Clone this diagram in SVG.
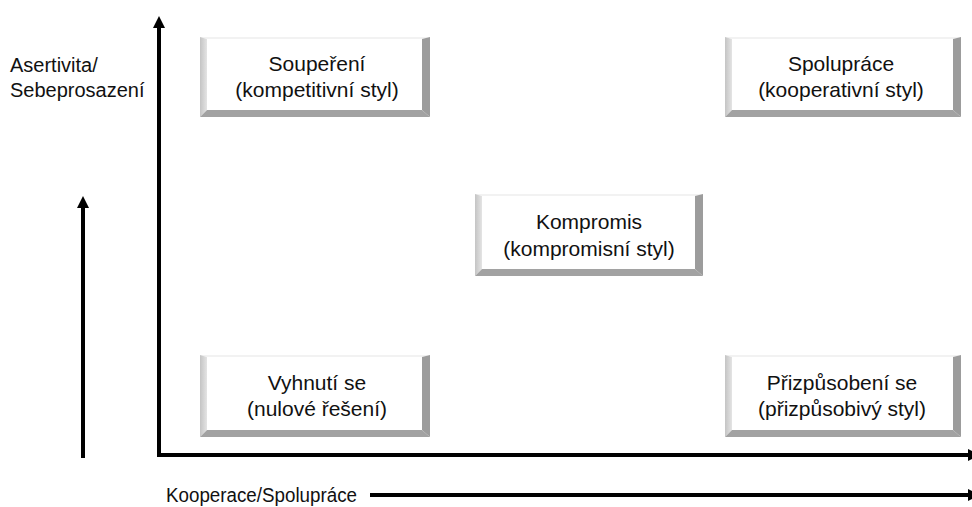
<svg xmlns="http://www.w3.org/2000/svg" width="972" height="507" viewBox="0 0 972 507">
<style>
.t{font-family:"Liberation Sans",Arial,sans-serif;font-size:20px;fill:#111;}
.b{font-size:21px;}
.c{text-anchor:middle;}
.tp{fill:#f2f2f2;}
.lf{fill:url(#lg);}
.rt{fill:#9c9c9c;}
.bt{fill:#a2a2a2;}
.fc{fill:#ffffff;}
.ax{stroke:#000;stroke-width:4;fill:none;}
</style>
<defs>
<linearGradient id="lg" x1="0" y1="0" x2="1" y2="0">
<stop offset="0" stop-color="#c4c4c4"/>
<stop offset="1" stop-color="#e4e4e4"/>
</linearGradient>
</defs>
<rect width="972" height="507" fill="#fff"/>

<g id="connectors">
<line class="ax" x1="159" y1="455" x2="159" y2="26"/>
<polygon points="159,16 153,28 165,28" fill="#000"/>
<line class="ax" x1="157" y1="455" x2="968" y2="455"/>
<polygon points="980,455 968,449 968,461" fill="#000"/>
<line class="ax" x1="83" y1="458" x2="83" y2="206"/>
<polygon points="83,196 77,208 89,208" fill="#000"/>
<line class="ax" x1="370" y1="495" x2="968" y2="495" stroke-width="3.5"/>
<polygon points="980,495 968,489 968,501" fill="#000"/>
</g>

<g id="label-y">
<text class="t" x="10" y="72">Asertivita/</text>
<text class="t" x="10" y="97">Sebeprosazení</text>
</g>
<g id="label-x">
<text class="t" x="166" y="502" font-size="18" textLength="191" lengthAdjust="spacingAndGlyphs">Kooperace/Spolupráce</text>
</g>

<g id="souperani">
<polygon class="tp" points="200,37 430,37 422,39 207,39"/>
<polygon class="lf" points="200,37 207,39 207,110 200,117"/>
<polygon class="rt" points="430,37 430,117 422,110 422,39"/>
<polygon class="bt" points="200,117 207,110 422,110 430,117"/>
<rect class="fc" x="207" y="39" width="215" height="71"/>
<text class="t b c" x="317" y="71">Soupeření</text>
<text class="t b c" x="317" y="97">(kompetitivní styl)</text>
</g>

<g id="spoluprace">
<polygon class="tp" points="725,37 961,37 953,39 732,39"/>
<polygon class="lf" points="725,37 732,39 732,110 725,117"/>
<polygon class="rt" points="961,37 961,117 953,110 953,39"/>
<polygon class="bt" points="725,117 732,110 953,110 961,117"/>
<rect class="fc" x="732" y="39" width="221" height="71"/>
<text class="t b c" x="841" y="71">Spolupráce</text>
<text class="t b c" x="841" y="97">(kooperativní styl)</text>
</g>

<g id="kompromis">
<polygon class="tp" points="475,194 703,194 695,196 482,196"/>
<polygon class="lf" points="475,194 482,196 482,269 475,276"/>
<polygon class="rt" points="703,194 703,276 695,269 695,196"/>
<polygon class="bt" points="475,276 482,269 695,269 703,276"/>
<rect class="fc" x="482" y="196" width="213" height="73"/>
<text class="t b c" x="589" y="229">Kompromis</text>
<text class="t b c" x="589" y="256">(kompromisní styl)</text>
</g>

<g id="vyhnuti">
<polygon class="tp" points="200,355 430,355 422,357 207,357"/>
<polygon class="lf" points="200,355 207,357 207,430 200,437"/>
<polygon class="rt" points="430,355 430,437 422,430 422,357"/>
<polygon class="bt" points="200,437 207,430 422,430 430,437"/>
<rect class="fc" x="207" y="357" width="215" height="73"/>
<text class="t b c" x="317" y="390">Vyhnutí se</text>
<text class="t b c" x="317" y="416">(nulové řešení)</text>
</g>

<g id="prizpusobeni">
<polygon class="tp" points="725,355 961,355 953,357 732,357"/>
<polygon class="lf" points="725,355 732,357 732,430 725,437"/>
<polygon class="rt" points="961,355 961,437 953,430 953,357"/>
<polygon class="bt" points="725,437 732,430 953,430 961,437"/>
<rect class="fc" x="732" y="357" width="221" height="73"/>
<text class="t b c" x="842" y="390">Přizpůsobení se</text>
<text class="t b c" x="842" y="416">(přizpůsobivý styl)</text>
</g>
</svg>
